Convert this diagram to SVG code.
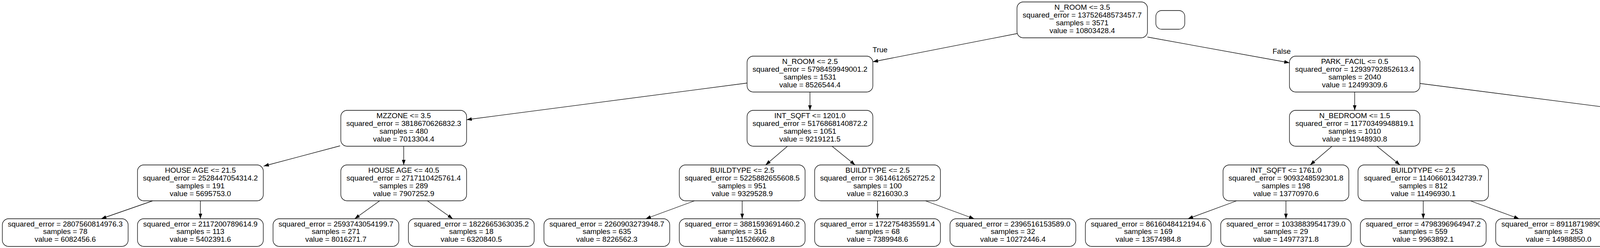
<svg xmlns="http://www.w3.org/2000/svg" width="5565" height="636" viewBox="0 0 5565 636">
<style>
rect{fill:#fff;stroke:#000;stroke-width:1.33}
text{font-family:"Liberation Sans",Arial,Helvetica,sans-serif;font-size:19px;text-anchor:middle;fill:#000}
.e line{stroke:#000;stroke-width:1.33;marker-end:url(#a)}
</style>
<defs>
<marker id="a" markerUnits="userSpaceOnUse" markerWidth="14" markerHeight="10" refX="13.3" refY="4.67" orient="auto"><path d="M0,0 L13.3,4.67 L0,9.33 z" fill="#000"/></marker>
</defs>
<rect width="5565" height="636" style="fill:#fff;stroke:none"/>
<g id="edges" class="e">
<line x1="2604" y1="86" x2="2234.5" y2="158.5"/>
<line x1="2937.5" y1="95" x2="3301" y2="161"/>
<line x1="1912.5" y1="213" x2="1194.5" y2="307"/>
<line x1="2073.5" y1="236" x2="2073.5" y2="283"/>
<line x1="3468" y1="236" x2="3468" y2="283"/>
<line x1="3635" y1="214" x2="4343.5" y2="305"/>
<line x1="870.5" y1="374" x2="675" y2="426"/>
<line x1="1033.5" y1="375" x2="1033.5" y2="423"/>
<line x1="2016" y1="375" x2="1960" y2="423"/>
<line x1="2130" y1="375" x2="2189" y2="423"/>
<line x1="3410" y1="375" x2="3354" y2="423"/>
<line x1="3525" y1="375" x2="3584" y2="423"/>
<line x1="4510.5" y1="375" x2="4510.5" y2="423"/>
<line x1="4677" y1="375" x2="4868.5" y2="424"/>
<line x1="391" y1="515" x2="259" y2="561"/>
<line x1="513" y1="515" x2="513" y2="561"/>
<line x1="972" y1="515" x2="908" y2="561"/>
<line x1="1094" y1="515" x2="1159" y2="561"/>
<line x1="1778" y1="515" x2="1653" y2="561"/>
<line x1="1900" y1="515" x2="1900" y2="561"/>
<line x1="2246.5" y1="515" x2="2246.5" y2="561"/>
<line x1="2369" y1="515" x2="2494" y2="561"/>
<line x1="3166" y1="515" x2="3041" y2="561"/>
<line x1="3292" y1="515" x2="3292" y2="561"/>
<line x1="3643.5" y1="515" x2="3643.5" y2="561"/>
<line x1="3764" y1="515" x2="3889" y2="561"/>
<line x1="4450" y1="515" x2="4387" y2="561"/>
<line x1="4572" y1="515" x2="4635" y2="561"/>
<line x1="5035.5" y1="515" x2="5035.5" y2="561"/>
<line x1="5161" y1="515" x2="5292" y2="561"/>
<text x="2253" y="134">True</text>
<text x="3281" y="137.7">False</text>
</g>
<g id="n0"><rect x="2603.5" y="5" width="334" height="92" rx="16"/><text x="2770.5" y="25.2">N_ROOM &lt;= 3.5</text><text x="2770.5" y="45">squared_error = 13752648573457.7</text><text x="2770.5" y="64.8">samples = 3571</text><text x="2770.5" y="84.6">value = 10803428.4</text></g>
<g id="legend"><rect x="2959" y="27" width="74" height="48" rx="15"/></g>
<g id="n1"><rect x="1912.5" y="144" width="322" height="92" rx="16"/><text x="2073.5" y="164.2">N_ROOM &lt;= 2.5</text><text x="2073.5" y="184">squared_error = 5798459949001.2</text><text x="2073.5" y="203.8">samples = 1531</text><text x="2073.5" y="223.6">value = 8526544.4</text></g>
<g id="n16"><rect x="3301" y="144" width="334" height="92" rx="16"/><text x="3468" y="164.2">PARK_FACIL &lt;= 0.5</text><text x="3468" y="184">squared_error = 12939792852613.4</text><text x="3468" y="203.8">samples = 2040</text><text x="3468" y="223.6">value = 12499309.6</text></g>
<g id="n2"><rect x="872.5" y="283" width="322" height="92" rx="16"/><text x="1033.5" y="303.2">MZZONE &lt;= 3.5</text><text x="1033.5" y="323">squared_error = 3818670626832.3</text><text x="1033.5" y="342.8">samples = 480</text><text x="1033.5" y="362.6">value = 7013304.4</text></g>
<g id="n9"><rect x="1912.5" y="283" width="322" height="92" rx="16"/><text x="2073.5" y="303.2">INT_SQFT &lt;= 1201.0</text><text x="2073.5" y="323">squared_error = 5176868140872.2</text><text x="2073.5" y="342.8">samples = 1051</text><text x="2073.5" y="362.6">value = 9219121.5</text></g>
<g id="n17"><rect x="3301" y="283" width="334" height="92" rx="16"/><text x="3468" y="303.2">N_BEDROOM &lt;= 1.5</text><text x="3468" y="323">squared_error = 11770349948819.1</text><text x="3468" y="342.8">samples = 1010</text><text x="3468" y="362.6">value = 11948930.8</text></g>
<g id="n24"><rect x="4343.5" y="283" width="334" height="92" rx="16"/><text x="4510.5" y="303.2">AREA &lt;= 5.5</text><text x="4510.5" y="323">squared_error = 13503884626162.5</text><text x="4510.5" y="342.8">samples = 1030</text><text x="4510.5" y="362.6">value = 13050709.6</text></g>
<g id="n3"><rect x="352" y="423" width="322" height="92" rx="16"/><text x="513" y="443.2">HOUSE AGE &lt;= 21.5</text><text x="513" y="463">squared_error = 2528447054314.2</text><text x="513" y="482.8">samples = 191</text><text x="513" y="502.6">value = 5695753.0</text></g>
<g id="n6"><rect x="872.5" y="423" width="322" height="92" rx="16"/><text x="1033.5" y="443.2">HOUSE AGE &lt;= 40.5</text><text x="1033.5" y="463">squared_error = 2717110425761.4</text><text x="1033.5" y="482.8">samples = 289</text><text x="1033.5" y="502.6">value = 7907252.9</text></g>
<g id="n10"><rect x="1739" y="423" width="322" height="92" rx="16"/><text x="1900" y="443.2">BUILDTYPE &lt;= 2.5</text><text x="1900" y="463">squared_error = 5225882655608.5</text><text x="1900" y="482.8">samples = 951</text><text x="1900" y="502.6">value = 9329528.9</text></g>
<g id="n13"><rect x="2085.5" y="423" width="322" height="92" rx="16"/><text x="2246.5" y="443.2">BUILDTYPE &lt;= 2.5</text><text x="2246.5" y="463">squared_error = 3614612652725.2</text><text x="2246.5" y="482.8">samples = 100</text><text x="2246.5" y="502.6">value = 8216030.3</text></g>
<g id="n18"><rect x="3131" y="423" width="322" height="92" rx="16"/><text x="3292" y="443.2">INT_SQFT &lt;= 1761.0</text><text x="3292" y="463">squared_error = 9093248592301.8</text><text x="3292" y="482.8">samples = 198</text><text x="3292" y="502.6">value = 13770970.6</text></g>
<g id="n21"><rect x="3476.5" y="423" width="334" height="92" rx="16"/><text x="3643.5" y="443.2">BUILDTYPE &lt;= 2.5</text><text x="3643.5" y="463">squared_error = 11406601342739.7</text><text x="3643.5" y="482.8">samples = 812</text><text x="3643.5" y="502.6">value = 11496930.1</text></g>
<g id="n25"><rect x="4349.5" y="423" width="322" height="92" rx="16"/><text x="4510.5" y="443.2">HOUSE AGE &lt;= 29.5</text><text x="4510.5" y="463">squared_error = 8499076292046.4</text><text x="4510.5" y="482.8">samples = 698</text><text x="4510.5" y="502.6">value = 11725402.3</text></g>
<g id="n28"><rect x="4868.5" y="423" width="334" height="92" rx="16"/><text x="5035.5" y="443.2">MZZONE &lt;= 4.5</text><text x="5035.5" y="463">squared_error = 12279373983857.2</text><text x="5035.5" y="482.8">samples = 332</text><text x="5035.5" y="502.6">value = 15927405.9</text></g>
<g id="n4"><rect x="6" y="561" width="322" height="71" rx="16"/><text x="167" y="580.5">squared_error = 2807560814976.3</text><text x="167" y="600.3">samples = 78</text><text x="167" y="620.1">value = 6082456.6</text></g>
<g id="n5"><rect x="352" y="561" width="322" height="71" rx="16"/><text x="513" y="580.5">squared_error = 2117200789614.9</text><text x="513" y="600.3">samples = 113</text><text x="513" y="620.1">value = 5402391.6</text></g>
<g id="n7"><rect x="699" y="561" width="322" height="71" rx="16"/><text x="860" y="580.5">squared_error = 2593743054199.7</text><text x="860" y="600.3">samples = 271</text><text x="860" y="620.1">value = 8016271.7</text></g>
<g id="n8"><rect x="1045.5" y="561" width="322" height="71" rx="16"/><text x="1206.5" y="580.5">squared_error = 1822665363035.2</text><text x="1206.5" y="600.3">samples = 18</text><text x="1206.5" y="620.1">value = 6320840.5</text></g>
<g id="n11"><rect x="1392.5" y="561" width="322" height="71" rx="16"/><text x="1553.5" y="580.5">squared_error = 2260903273948.7</text><text x="1553.5" y="600.3">samples = 635</text><text x="1553.5" y="620.1">value = 8226562.3</text></g>
<g id="n12"><rect x="1739" y="561" width="322" height="71" rx="16"/><text x="1900" y="580.5">squared_error = 3881593691460.2</text><text x="1900" y="600.3">samples = 316</text><text x="1900" y="620.1">value = 11526602.8</text></g>
<g id="n14"><rect x="2085.5" y="561" width="322" height="71" rx="16"/><text x="2246.5" y="580.5">squared_error = 1722754835591.4</text><text x="2246.5" y="600.3">samples = 68</text><text x="2246.5" y="620.1">value = 7389948.6</text></g>
<g id="n15"><rect x="2432" y="561" width="322" height="71" rx="16"/><text x="2593" y="580.5">squared_error = 2396516153589.0</text><text x="2593" y="600.3">samples = 32</text><text x="2593" y="620.1">value = 10272446.4</text></g>
<g id="n19"><rect x="2778.5" y="561" width="322" height="71" rx="16"/><text x="2939.5" y="580.5">squared_error = 8616048412194.6</text><text x="2939.5" y="600.3">samples = 169</text><text x="2939.5" y="620.1">value = 13574984.8</text></g>
<g id="n20"><rect x="3125" y="561" width="334" height="71" rx="16"/><text x="3292" y="580.5">squared_error = 10338839541739.0</text><text x="3292" y="600.3">samples = 29</text><text x="3292" y="620.1">value = 14977371.8</text></g>
<g id="n22"><rect x="3482.5" y="561" width="322" height="71" rx="16"/><text x="3643.5" y="580.5">squared_error = 4798396964947.2</text><text x="3643.5" y="600.3">samples = 559</text><text x="3643.5" y="620.1">value = 9963892.1</text></g>
<g id="n23"><rect x="3829" y="561" width="322" height="71" rx="16"/><text x="3990" y="580.5">squared_error = 8911871989006.6</text><text x="3990" y="600.3">samples = 253</text><text x="3990" y="620.1">value = 14988850.0</text></g>
<g id="n26"><rect x="4175.5" y="561" width="322" height="71" rx="16"/><text x="4336.5" y="580.5">squared_error = 8184100881359.9</text><text x="4336.5" y="600.3">samples = 481</text><text x="4336.5" y="620.1">value = 12217782.3</text></g>
<g id="n27"><rect x="4523.5" y="561" width="322" height="71" rx="16"/><text x="4684.5" y="580.5">squared_error = 7621534386747.0</text><text x="4684.5" y="600.3">samples = 217</text><text x="4684.5" y="620.1">value = 10712078.8</text></g>
<g id="n29"><rect x="4868.5" y="561" width="334" height="71" rx="16"/><text x="5035.5" y="580.5">squared_error = 10390604383070.0</text><text x="5035.5" y="600.3">samples = 110</text><text x="5035.5" y="620.1">value = 15000154.5</text></g>
<g id="n30"><rect x="5226" y="561" width="334" height="71" rx="16"/><text x="5393" y="580.5">squared_error = 12569059548806.8</text><text x="5393" y="600.3">samples = 222</text><text x="5393" y="620.1">value = 16347442.9</text></g>
</svg>
